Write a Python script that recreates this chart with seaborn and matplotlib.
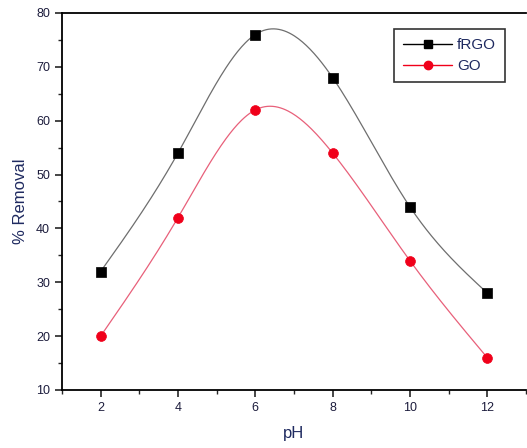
import numpy as np
import pandas as pd
import matplotlib
matplotlib.use('Agg')
import matplotlib.pyplot as plt
import seaborn as sns
from matplotlib.lines import Line2D
from matplotlib.ticker import MultipleLocator

ph = [2, 4, 6, 8, 10, 12]
frgo = [32, 54, 76, 68, 44, 28]
go = [20, 42, 62, 54, 34, 16]


def spline(x, y, n=300):
    # natural cubic spline, like the smoothed line in Origin
    x = np.asarray(x, float)
    y = np.asarray(y, float)
    k = len(x)
    h = np.diff(x)
    A = np.zeros((k, k))
    b = np.zeros(k)
    A[0, 0] = A[-1, -1] = 1
    for i in range(1, k - 1):
        A[i, i - 1] = h[i - 1]
        A[i, i] = 2 * (h[i - 1] + h[i])
        A[i, i + 1] = h[i]
        b[i] = 6 * ((y[i + 1] - y[i]) / h[i] - (y[i] - y[i - 1]) / h[i - 1])
    m = np.linalg.solve(A, b)
    xs = np.linspace(x[0], x[-1], n)
    idx = np.clip(np.searchsorted(x, xs) - 1, 0, k - 2)
    x0, x1 = x[idx], x[idx + 1]
    hh = x1 - x0
    t0, t1 = x1 - xs, xs - x0
    ys = (m[idx] * t0**3 + m[idx + 1] * t1**3) / (6 * hh) \
        + (y[idx] / hh - m[idx] * hh / 6) * t0 \
        + (y[idx + 1] / hh - m[idx + 1] * hh / 6) * t1
    return xs, ys


sns.set_style('ticks')
plt.rcParams['font.family'] = ['Liberation Sans', 'DejaVu Sans']

fig = plt.figure(figsize=(5.27, 4.48), dpi=100)
ax = fig.add_axes([0.1176, 0.1295, 0.8804, 0.8415])

red = '#f0001a'
for vals, lc in [(frgo, '#6e6e6e'), (go, '#e8607a')]:
    xs, ys = spline(ph, vals)
    sns.lineplot(x=xs, y=ys, ax=ax, color=lc, linewidth=0.9, sort=False)

sns.scatterplot(x=ph, y=frgo, ax=ax, marker='s', color='black', s=50,
                edgecolor='black', linewidth=0.5, zorder=3)
sns.scatterplot(x=ph, y=go, ax=ax, marker='o', color=red, s=50,
                edgecolor=red, linewidth=0.5, zorder=3)

ax.set_xlim(1, 13)
ax.set_ylim(10, 80)
ax.xaxis.set_major_locator(MultipleLocator(2))
ax.xaxis.set_minor_locator(MultipleLocator(1))
ax.yaxis.set_major_locator(MultipleLocator(10))
ax.yaxis.set_minor_locator(MultipleLocator(5))
ax.tick_params(which='major', direction='out', length=5, width=1.2,
               labelsize=9, labelcolor='#1c1c3c')
ax.tick_params(which='minor', direction='out', length=3, width=1.0)
ax.set_xticks([2, 4, 6, 8, 10, 12])
ax.set_xticklabels(['2', '4', '6', '8', '10', '12'])
for s in ['left', 'bottom', 'top']:
    ax.spines[s].set_linewidth(1.3)
    ax.spines[s].set_color('black')
ax.spines['right'].set_visible(False)

ax.set_xlabel('pH', fontsize=12, color='#1f2a60', labelpad=9)
ax.set_ylabel('% Removal', fontsize=12, color='#1f2a60', labelpad=6)

handles = [
    Line2D([], [], color='black', marker='s', markersize=6, linewidth=1.0),
    Line2D([], [], color=red, marker='o', markersize=6, linewidth=1.0),
]
leg = ax.legend(handles, ['fRGO', 'GO'], loc='upper right',
                bbox_to_anchor=(0.955, 0.958), borderaxespad=0,
                fontsize=11, frameon=True,
                fancybox=False, edgecolor='black', handlelength=3.2,
                handletextpad=0.3, borderpad=0.6, labelspacing=0.45)
leg.get_frame().set_linewidth(1.2)
for t in leg.get_texts():
    t.set_color('#1f2a60')

plt.savefig('out.png', dpi=100, facecolor='white')
